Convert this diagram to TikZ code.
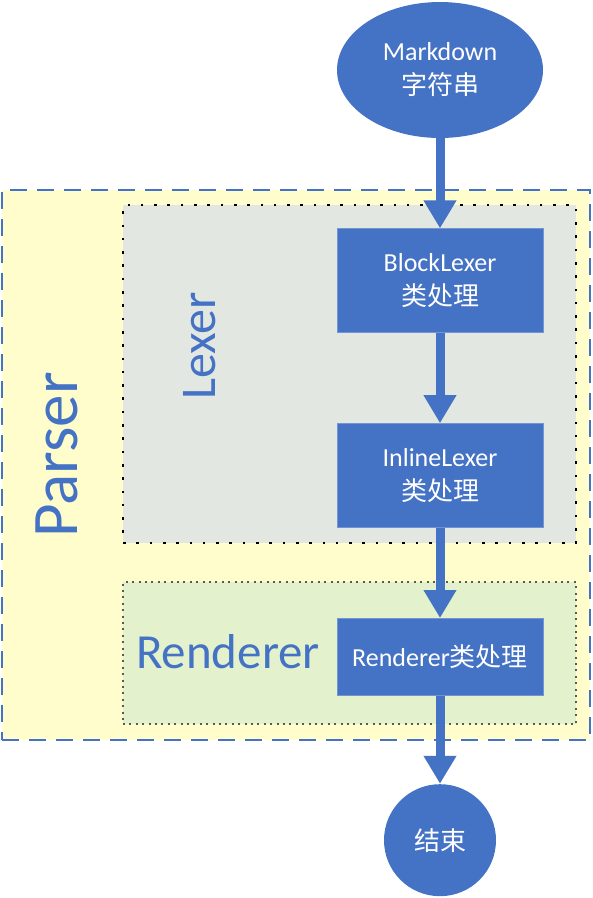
\documentclass[tikz,border=0pt]{standalone}
\usepackage{fontspec}
\setmainfont{Carlito}
\newfontfamily\cjk{Noto Sans CJK SC}
\usetikzlibrary{arrows.meta, positioning, shapes.geometric, backgrounds}
\definecolor{officeblue}{HTML}{4472C4}
\definecolor{parseryellow}{HTML}{FFFDCC}
\definecolor{lexergrey}{HTML}{E3E7E1}
\definecolor{rendergreen}{HTML}{E3F1CC}
\tikzset{
  node distance=90pt,
  proc/.style={draw=officeblue!75!white, line width=0.8pt, fill=officeblue, text=white, align=center,
    minimum width=206pt, minimum height=104pt, inner sep=0pt, font=\fontsize{26}{34}\selectfont},
  term/.style={proc, draw=none, ellipse},
  grp/.style={inner sep=0pt, outer sep=0pt},
  grplabel/.style={text=officeblue, inner sep=0pt},
  flow/.style={officeblue, line width=9pt, -{Triangle[width=31pt,length=28pt]}}
}
\begin{document}
\begin{tikzpicture}[x=1pt,y=-1pt]
  \useasboundingbox (0,0) rectangle (593,898);

  % groups
  \node[grp, fill=parseryellow, draw=officeblue, line width=2.6pt, dash pattern=on 17pt off 10pt,
    minimum width=588pt, minimum height=550pt] (parser) at (296,465) {};
  \node[grp, fill=lexergrey, draw=black, line width=2.6pt, dash pattern=on 2.6pt off 10.7pt,
    minimum width=453pt, minimum height=338pt] (lexer) at (349.5,374) {};
  \node[grp, fill=rendergreen, draw=black!65, line width=2pt, dash pattern=on 2pt off 4.4pt,
    minimum width=453pt, minimum height=142pt] (render) at (349.5,653) {};

  \node[grplabel, rotate=90, font=\fontsize{65}{65}\selectfont] (parserlbl) at (57,455) {Parser};
  \node[grplabel, rotate=90, font=\fontsize{50}{50}\selectfont] (lexerlbl) at (200,346) {Lexer};
  \node[grplabel, font=\fontsize{49}{49}\selectfont] (renderlbl) at (228,652) {Renderer};

  % flow
  \node[term, minimum width=206pt, minimum height=136pt] (md) at (440,70) {Markdown\\\cjk 字符串};
  \node[proc, below=of md] (block) {BlockLexer\\\cjk 类处理};
  \node[proc, below=of block] (inline) {InlineLexer\\\cjk 类处理};
  \node[proc, below=of inline, minimum height=77pt] (rend) {Renderer{\cjk 类处理}};
  \node[term, circle, minimum size=112pt, below=88pt of rend] (fin) {\cjk 结束};

  \draw[flow] (md) -- (block);
  \draw[flow] (block) -- (inline);
  \draw[flow] (inline) -- (rend);
  \draw[flow] (rend) -- (fin);
\end{tikzpicture}
\end{document}
